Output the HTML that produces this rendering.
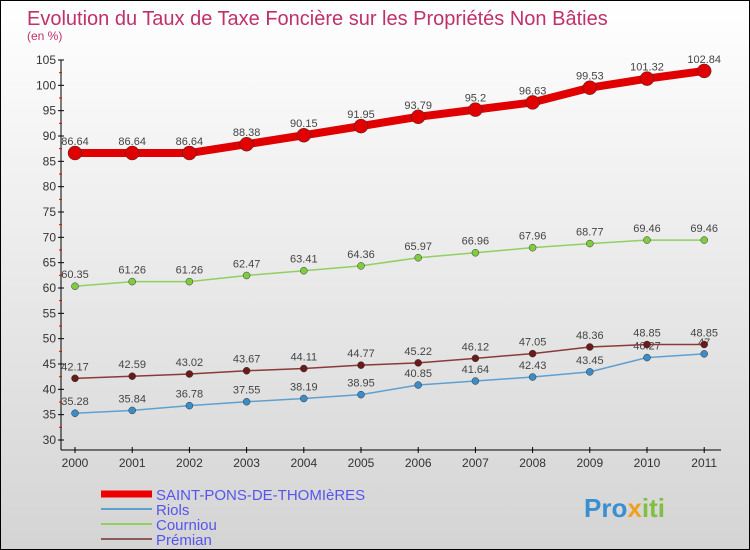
<!DOCTYPE html>
<html><head><meta charset="utf-8"><style>
body{margin:0}
#c{width:748px;height:548px;border:1px solid #000;background:linear-gradient(#fff,#d4d4d4);position:relative;font-family:"Liberation Sans",sans-serif;overflow:hidden}
</style></head><body>
<div id="c">
<svg id="s" width="748" height="548" style="position:absolute;left:0;top:0"></svg>
</div>
<script>
const years=["2000","2001","2002","2003","2004","2005","2006","2007","2008","2009","2010","2011"];
const saint=[86.64,86.64,86.64,88.38,90.15,91.95,93.79,95.2,96.63,99.53,101.32,102.84];
const riols=[35.28,35.84,36.78,37.55,38.19,38.95,40.85,41.64,42.43,43.45,46.27,47];
const courniou=[60.35,61.26,61.26,62.47,63.41,64.36,65.97,66.96,67.96,68.77,69.46,69.46];
const premian=[42.17,42.59,43.02,43.67,44.11,44.77,45.22,46.12,47.05,48.36,48.85,48.85];
const yTicks=[30,35,40,45,50,55,60,65,70,75,80,85,90,95,100,105];
const NS="http://www.w3.org/2000/svg",s=document.getElementById('s');
const X=i=>74+i*57.2, Y=v=>439-(v-30)*(380/75);
function el(t,a,txt,p){const e=document.createElementNS(NS,t);for(const k in a)e.setAttribute(k,a[k]);if(txt!=null)e.textContent=txt;(p||s).appendChild(e);return e;}
let e;
e=el('text',{x:26,y:24,'font-size':20,fill:'#c0306a'},'Evolution du Taux de Taxe Foncière sur les Propriétés Non Bâties');

e=el('text',{x:26,y:39,'font-size':12,fill:'#c0306a'},'(en %)');

el('line',{x1:60,y1:Y(105),x2:60,y2:449,stroke:'#000'});
el('line',{x1:60,y1:449,x2:720,y2:449,stroke:'#000'});
yTicks.forEach(v=>{const y=Y(v);
 el('line',{x1:57,y1:y,x2:63,y2:y,stroke:'#000'});
 e=el('text',{x:55,y:y+4,'font-size':12,fill:'#333','text-anchor':'end'},v);
 
 if(v<105){el('line',{x1:58,y1:Y(v+2.5),x2:61,y2:Y(v+2.5),stroke:'#e00'});}});
years.forEach((yr,i)=>{el('line',{x1:X(i),y1:446,x2:X(i),y2:452,stroke:'#000'});
 e=el('text',{x:X(i),y:466,'font-size':12,fill:'#333','text-anchor':'middle'},yr);
 });
function series(d,col,w,r,name,dot){
 e=el('polyline',{points:d.map((v,i)=>X(i)+','+Y(v)).join(' '),fill:'none',stroke:col,'stroke-width':w,'stroke-linejoin':'round'});
 
 d.forEach((v,i)=>{e=el('circle',{cx:X(i),cy:Y(v),r:r,fill:dot,stroke:'#333','stroke-width':0.5});
  
  e=el('text',{x:X(i),y:Y(v)-8,'font-size':11,fill:'#444','text-anchor':'middle'},String(v));
  });}
series(riols,'#5fa0d0',1.5,3.5,'riols','#3c8cc8');
series(premian,'#8b3a3a',1.5,3.5,'premian','#6b1a1a');
series(courniou,'#90d060',1.5,3.5,'courniou','#80cc40');
series(saint,'#e00000',8,7,'saint-pons','#e00000');
const leg=[['SAINT-PONS-DE-THOMIèRES','#e00',7],['Riols','#5fa0d0',2],['Courniou','#90d060',2],['Prémian','#8b5a5a',2]];
leg.forEach((l,i)=>{const y=493+i*15;
 e=el('line',{x1:100,y1:y,x2:151,y2:y,stroke:l[1],'stroke-width':l[2]});
 
 e=el('text',{x:155,y:y+6,'font-size':15,fill:'#5555ee'},l[0]);
 });
e=el('text',{x:583,y:516,'font-size':26,'font-weight':'bold',fill:'#3a8fd0'});

el('tspan',{},'Pro',e);el('tspan',{fill:'#f0a020'},'x',e);el('tspan',{fill:'#80c040'},'iti',e);
</script>
</body></html>
